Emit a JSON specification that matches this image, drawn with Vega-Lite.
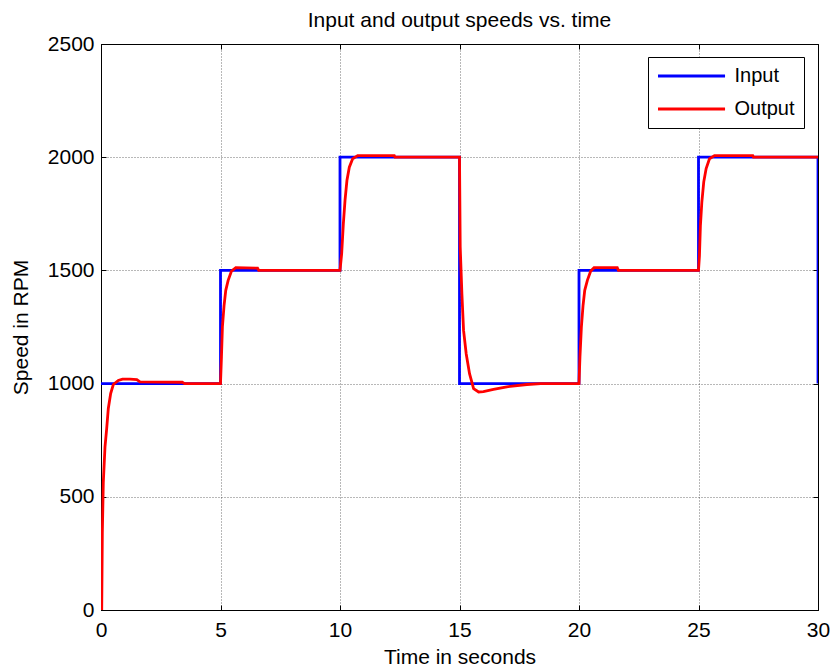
{
  "$schema": "https://vega.github.io/schema/vega-lite/v6.json",
  "width": 717,
  "height": 566,
  "autosize": {"type": "none"},
  "padding": {"left": 101, "top": 44, "right": 13, "bottom": 60},
  "background": "white",
  "title": {"text": "Input and output speeds vs. time", "fontSize": 21, "font": "Liberation Sans", "fontWeight": "normal", "color": "#000", "offset": 2},
  "config": {
    "view": {"stroke": "#000", "strokeWidth": 1},
    "axis": {
      "domainColor": "#000", "tickColor": "#000", "labelColor": "#000", "titleColor": "#000",
      "labelFont": "Liberation Sans", "titleFont": "Liberation Sans",
      "labelFontSize": 21, "titleFontSize": 21, "titleFontWeight": "normal",
      "gridColor": "#000", "gridDash": [1, 2], "gridOpacity": 0.7, "gridWidth": 0.8,
      "tickSize": -5, "labelFlush": false
    }
  },
  "data": {"values": [
    {"i": 0, "series": "Input", "t": 0, "rpm": 1000},
    {"i": 1, "series": "Input", "t": 5, "rpm": 1000},
    {"i": 2, "series": "Input", "t": 5, "rpm": 1500},
    {"i": 3, "series": "Input", "t": 10, "rpm": 1500},
    {"i": 4, "series": "Input", "t": 10, "rpm": 2000},
    {"i": 5, "series": "Input", "t": 15, "rpm": 2000},
    {"i": 6, "series": "Input", "t": 15, "rpm": 1000},
    {"i": 7, "series": "Input", "t": 20, "rpm": 1000},
    {"i": 8, "series": "Input", "t": 20, "rpm": 1500},
    {"i": 9, "series": "Input", "t": 25, "rpm": 1500},
    {"i": 10, "series": "Input", "t": 25, "rpm": 2000},
    {"i": 11, "series": "Input", "t": 30, "rpm": 2000},
    {"i": 12, "series": "Input", "t": 30, "rpm": 1000},
    {"i": 100, "series": "Output", "t": 0, "rpm": 0},
    {"i": 101, "series": "Output", "t": 0.03, "rpm": 0},
    {"i": 102, "series": "Output", "t": 0.056, "rpm": 342},
    {"i": 103, "series": "Output", "t": 0.097, "rpm": 565},
    {"i": 104, "series": "Output", "t": 0.167, "rpm": 720},
    {"i": 105, "series": "Output", "t": 0.237, "rpm": 800},
    {"i": 106, "series": "Output", "t": 0.306, "rpm": 890},
    {"i": 107, "series": "Output", "t": 0.404, "rpm": 956},
    {"i": 108, "series": "Output", "t": 0.515, "rpm": 996},
    {"i": 109, "series": "Output", "t": 0.724, "rpm": 1014},
    {"i": 110, "series": "Output", "t": 0.9, "rpm": 1020},
    {"i": 111, "series": "Output", "t": 1.21, "rpm": 1020},
    {"i": 112, "series": "Output", "t": 1.5, "rpm": 1018},
    {"i": 113, "series": "Output", "t": 1.63, "rpm": 1008},
    {"i": 114, "series": "Output", "t": 3.4, "rpm": 1006},
    {"i": 115, "series": "Output", "t": 3.5, "rpm": 1000},
    {"i": 116, "series": "Output", "t": 5.0, "rpm": 1000},
    {"i": 117, "series": "Output", "t": 5.04, "rpm": 1118},
    {"i": 118, "series": "Output", "t": 5.08, "rpm": 1250},
    {"i": 119, "series": "Output", "t": 5.15, "rpm": 1346},
    {"i": 120, "series": "Output", "t": 5.22, "rpm": 1412},
    {"i": 121, "series": "Output", "t": 5.32, "rpm": 1456},
    {"i": 122, "series": "Output", "t": 5.46, "rpm": 1497},
    {"i": 123, "series": "Output", "t": 5.64, "rpm": 1512},
    {"i": 124, "series": "Output", "t": 6.55, "rpm": 1510},
    {"i": 125, "series": "Output", "t": 6.6, "rpm": 1500},
    {"i": 126, "series": "Output", "t": 10.0, "rpm": 1500},
    {"i": 127, "series": "Output", "t": 10.07, "rpm": 1574},
    {"i": 128, "series": "Output", "t": 10.14, "rpm": 1706},
    {"i": 129, "series": "Output", "t": 10.21, "rpm": 1809},
    {"i": 130, "series": "Output", "t": 10.29, "rpm": 1897},
    {"i": 131, "series": "Output", "t": 10.39, "rpm": 1956},
    {"i": 132, "series": "Output", "t": 10.53, "rpm": 1993},
    {"i": 133, "series": "Output", "t": 10.74, "rpm": 2007},
    {"i": 134, "series": "Output", "t": 12.27, "rpm": 2007},
    {"i": 135, "series": "Output", "t": 12.3, "rpm": 2000},
    {"i": 136, "series": "Output", "t": 15.0, "rpm": 2000},
    {"i": 137, "series": "Output", "t": 15.03, "rpm": 1603},
    {"i": 138, "series": "Output", "t": 15.1, "rpm": 1397},
    {"i": 139, "series": "Output", "t": 15.17, "rpm": 1235},
    {"i": 140, "series": "Output", "t": 15.28, "rpm": 1132},
    {"i": 141, "series": "Output", "t": 15.42, "rpm": 1044},
    {"i": 142, "series": "Output", "t": 15.59, "rpm": 978},
    {"i": 143, "series": "Output", "t": 15.8, "rpm": 963},
    {"i": 144, "series": "Output", "t": 16.0, "rpm": 965},
    {"i": 145, "series": "Output", "t": 16.42, "rpm": 975},
    {"i": 146, "series": "Output", "t": 16.98, "rpm": 986},
    {"i": 147, "series": "Output", "t": 17.82, "rpm": 996},
    {"i": 148, "series": "Output", "t": 18.4, "rpm": 1000},
    {"i": 149, "series": "Output", "t": 20.0, "rpm": 1000},
    {"i": 150, "series": "Output", "t": 20.04, "rpm": 1118},
    {"i": 151, "series": "Output", "t": 20.1, "rpm": 1250},
    {"i": 152, "series": "Output", "t": 20.17, "rpm": 1346},
    {"i": 153, "series": "Output", "t": 20.24, "rpm": 1412},
    {"i": 154, "series": "Output", "t": 20.35, "rpm": 1456},
    {"i": 155, "series": "Output", "t": 20.49, "rpm": 1497},
    {"i": 156, "series": "Output", "t": 20.63, "rpm": 1512},
    {"i": 157, "series": "Output", "t": 21.6, "rpm": 1512},
    {"i": 158, "series": "Output", "t": 21.65, "rpm": 1500},
    {"i": 159, "series": "Output", "t": 25.0, "rpm": 1500},
    {"i": 160, "series": "Output", "t": 25.04, "rpm": 1565},
    {"i": 161, "series": "Output", "t": 25.08, "rpm": 1698},
    {"i": 162, "series": "Output", "t": 25.14, "rpm": 1802},
    {"i": 163, "series": "Output", "t": 25.22, "rpm": 1891},
    {"i": 164, "series": "Output", "t": 25.32, "rpm": 1950},
    {"i": 165, "series": "Output", "t": 25.46, "rpm": 1993},
    {"i": 166, "series": "Output", "t": 25.67, "rpm": 2007},
    {"i": 167, "series": "Output", "t": 27.27, "rpm": 2007},
    {"i": 168, "series": "Output", "t": 27.3, "rpm": 2000},
    {"i": 169, "series": "Output", "t": 30, "rpm": 2000}
  ]},
  "layer": [
    {
      "mark": {"type": "line", "strokeWidth": 2.8, "clip": true},
      "encoding": {
        "x": {"field": "t", "type": "quantitative", "scale": {"domain": [0, 30], "nice": false},
          "axis": {"values": [0, 5, 10, 15, 20, 25, 30], "title": "Time in seconds", "labelPadding": 14, "titlePadding": 6}},
        "y": {"field": "rpm", "type": "quantitative", "scale": {"domain": [0, 2500], "nice": false},
          "axis": {"values": [0, 500, 1000, 1500, 2000, 2500], "format": "d", "title": "Speed in RPM", "labelPadding": 12, "titlePadding": 16}},
        "order": {"field": "i", "type": "quantitative"},
        "color": {"field": "series", "type": "nominal",
          "scale": {"domain": ["Input", "Output"], "range": ["#0000ff", "#ff0000"]},
          "legend": {"orient": "none", "legendX": 547, "legendY": 13, "title": null,
            "symbolType": "M-1,0H6.45", "symbolSize": 324, "symbolStrokeWidth": 3,
            "labelFontSize": 20, "labelFont": "Liberation Sans", "labelColor": "#000",
            "strokeColor": "#000", "fillColor": "#fff", "padding": 8.5, "labelOffset": 57, "rowPadding": 12}}
      }
    },
    {
      "mark": {"type": "line", "strokeOpacity": 0, "clip": true},
      "encoding": {
        "x": {"field": "t", "type": "quantitative",
          "axis": {"orient": "top", "values": [0, 5, 10, 15, 20, 25, 30], "labels": false, "grid": false, "domain": false, "title": null}},
        "y": {"field": "rpm", "type": "quantitative",
          "axis": {"orient": "right", "values": [0, 500, 1000, 1500, 2000, 2500], "labels": false, "grid": false, "domain": false, "title": null}},
        "order": {"field": "i", "type": "quantitative"},
        "detail": {"field": "series", "type": "nominal"}
      }
    }
  ],
  "resolve": {"axis": {"x": "independent", "y": "independent"}}
}
